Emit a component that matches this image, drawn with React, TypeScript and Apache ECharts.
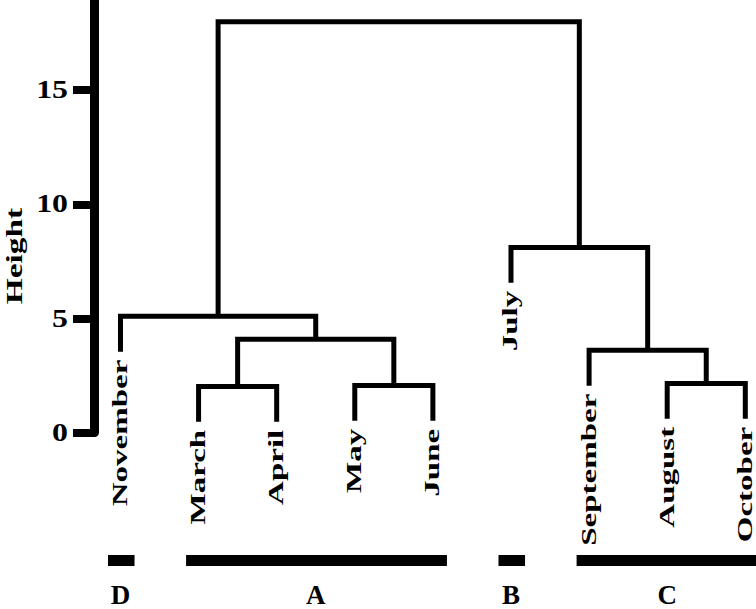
import React, { useEffect, useRef } from "react";
import * as echarts from "echarts";

// Leaves in display order (left to right)
const leaves = ["November", "March", "April", "May", "June", "July", "September", "August", "October"];
// Merge table (R style): negative = leaf (-(index+1)), positive = earlier merge row (1-based)
const mergeLeft = [-2, -4, 1, -1, -8, -7, -6, 4];
const mergeRight = [-3, -5, 2, 3, -9, 5, 6, 7];
const mergeHeights = [2.02, 2.06, 4.08, 5.09, 2.15, 3.6, 8.11, 18.0];
const hang = 1.55;
// Groups shown under the leaves
const groupNames = ["D", "A", "B", "C"];
const groupStart = [0, 1, 5, 6];
const groupEnd = [0, 4, 5, 8];
const yTicks = [0, 5, 10, 15];

const FONT = "Liberation Serif, serif";
const XMIN = -0.339;
const XMAX = 8.137;

function nodeX(ref: number, xs: number[]): number {
  return ref < 0 ? -ref - 1 : xs[ref - 1];
}

export default function App() {
  const ref = useRef<HTMLDivElement>(null);
  useEffect(() => {
    if (!ref.current) return;
    const chart = echarts.init(ref.current, null, { renderer: "svg" });

    const mx: number[] = [];
    mergeHeights.forEach((_, i) => {
      mx.push((nodeX(mergeLeft[i], mx) + nodeX(mergeRight[i], mx)) / 2);
    });
    const leafTop: number[] = leaves.map(() => 0);
    mergeHeights.forEach((h, i) => {
      [mergeLeft[i], mergeRight[i]].forEach((c) => {
        if (c < 0) leafTop[-c - 1] = h - hang;
      });
    });

    const textStyle = (text: string, size: number, align: string) => ({
      text,
      fill: "#000",
      fontSize: size,
      fontWeight: "bold",
      fontFamily: FONT,
      align,
      verticalAlign: "middle",
    });

    const option: any = {
      animation: false,
      grid: [
        { left: 94, right: 0, top: 0, bottom: 176.5 },
        { left: 94, right: 0, top: 579, height: 11 },
      ],
      xAxis: [
        { type: "value", min: XMIN, max: XMAX, show: false, gridIndex: 0 },
        { type: "value", min: XMIN, max: XMAX, show: false, gridIndex: 1 },
      ],
      yAxis: [
        {
          type: "value",
          gridIndex: 0,
          min: 0,
          max: 20,
          interval: 5,
          axisLine: { show: true, onZero: false, lineStyle: { color: "#000", width: 9 } },
          axisTick: { show: true, length: 21, lineStyle: { color: "#000", width: 8 } },
          axisLabel: { show: false },
          splitLine: { show: false },
        },
        { type: "value", gridIndex: 1, min: 0, max: 1, show: false },
      ],
      series: [
        // y tick labels
        {
          type: "custom",
          xAxisIndex: 0,
          yAxisIndex: 0,
          data: yTicks.map((v) => [XMIN, v]),
          renderItem: (params: any, api: any) => {
            const p = api.coord([api.value(0), api.value(1)]);
            return {
              type: "text",
              x: p[0] - 26,
              y: p[1],
              scaleX: 1.3,
              style: textStyle(String(api.value(1)), 24.5, "right"),
            };
          },
        },
        // dendrogram branches
        {
          type: "custom",
          xAxisIndex: 0,
          yAxisIndex: 0,
          data: mergeHeights.map((h, i) => [i, h]),
          renderItem: (params: any, api: any) => {
            const i = api.value(0);
            const h = api.value(1);
            const kids = [mergeLeft[i], mergeRight[i]];
            const cx = kids.map((c) => nodeX(c, mx));
            const ct = kids.map((c) => (c < 0 ? h - hang : mergeHeights[c - 1]));
            const pts = [
              api.coord([cx[0], ct[0]]),
              api.coord([cx[0], h]),
              api.coord([cx[1], h]),
              api.coord([cx[1], ct[1]]),
            ];
            return {
              type: "polyline",
              shape: { points: pts },
              style: { stroke: "#000", lineWidth: 5, fill: "none", lineJoin: "miter", lineCap: "butt" },
            };
          },
        },
        // group bars + letters
        {
          type: "custom",
          xAxisIndex: 1,
          yAxisIndex: 1,
          data: groupNames.map((_, i) => [groupStart[i], groupEnd[i]]),
          renderItem: (params: any, api: any) => {
            const i = params.dataIndex;
            const a = api.coord([api.value(0) - 0.16, 1]);
            const b = api.coord([api.value(1) + 0.18, 0]);
            const c = api.coord([(api.value(0) + api.value(1)) / 2, 0]);
            return {
              type: "group",
              children: [
                {
                  type: "rect",
                  shape: { x: a[0], y: a[1], width: b[0] - a[0], height: b[1] - a[1] },
                  style: { fill: "#000" },
                },
                {
                  type: "text",
                  x: c[0],
                  y: c[1] + 29,
                  style: textStyle(groupNames[i], 27, "center"),
                },
              ],
            };
          },
        },
      ],
    };
    chart.setOption(option);

    // leaf labels and axis title, positioned through the chart's own scales
    const leafGraphics = leaves.map((name, i) => {
      const p = chart.convertToPixel({ xAxisIndex: 0, yAxisIndex: 0 }, [i, leafTop[i]]) as number[];
      return {
        type: "text",
        x: p[0] - 1,
        y: p[1] + 8,
        rotation: Math.PI / 2,
        scaleX: 1.5,
        style: textStyle(name, 22, "right"),
      };
    });
    chart.setOption({
      graphic: [
        {
          type: "text",
          x: 14,
          y: 280,
          rotation: Math.PI / 2,
          scaleX: 1.45,
          style: textStyle("Height", 23, "center"),
        },
        ...leafGraphics,
      ],
    });
    return () => chart.dispose();
  }, []);
  return (
    <div
      ref={ref}
      style={{ position: "absolute", left: 0, top: -24, width: 756, height: 633, background: "#fff" }}
    />
  );
}
